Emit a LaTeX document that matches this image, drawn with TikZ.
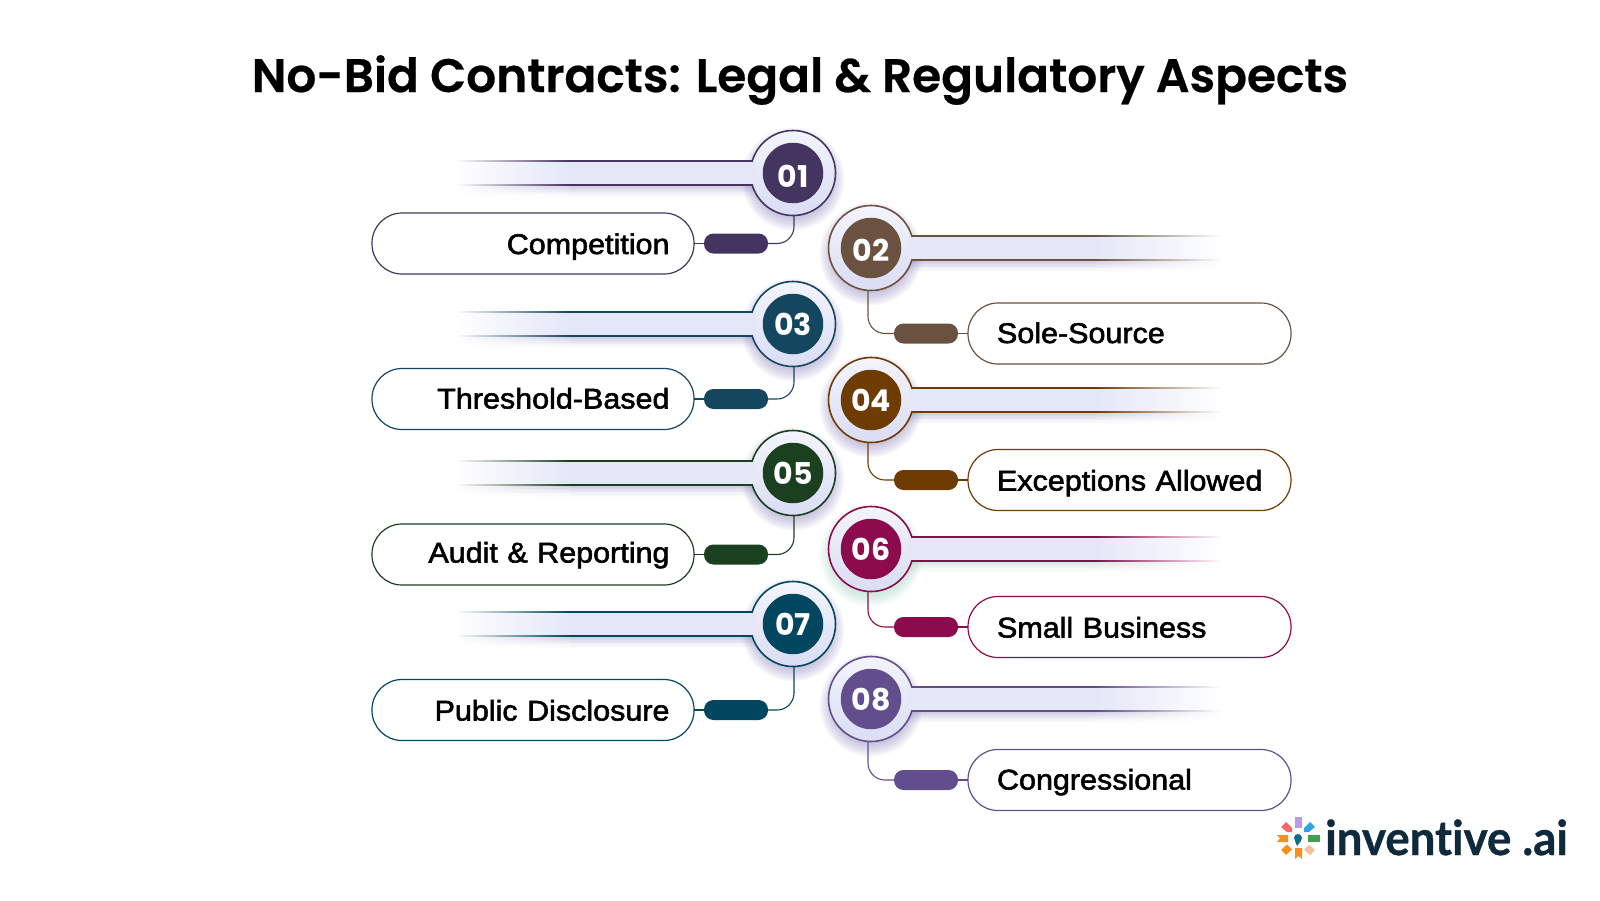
\documentclass[tikz,border=0pt]{standalone}
\usepackage{fontspec}
\setmainfont{Liberation Sans}
\newfontfamily\titlefont[FakeBold=0.5]{Poppins SemiBold}
\newfontfamily\numfont{Poppins}
\newfontfamily\labelfont[FakeBold=2,FakeStretch=1.07]{Liberation Sans}
\newfontfamily\logofont[Ligatures=NoCommon,BoldFeatures={FakeBold=0.8}]{Lato}
\definecolor{col1}{HTML}{443560}
\definecolor{col2}{HTML}{6B5240}
\definecolor{col3}{HTML}{14465F}
\definecolor{col4}{HTML}{6E3B03}
\definecolor{col5}{HTML}{1B4020}
\definecolor{col6}{HTML}{8B0B4D}
\definecolor{col7}{HTML}{03465F}
\definecolor{col8}{HTML}{624E8C}
\definecolor{barfill}{HTML}{E4E7F7}
\definecolor{ringtop}{HTML}{F3F4FC}
\definecolor{ringbot}{HTML}{DADDF4}
\definecolor{shadepurple}{HTML}{8F86BC}
\definecolor{shadegreen}{HTML}{9CCDB8}
\definecolor{logoink}{HTML}{0F2A3C}
\definecolor{petlilac}{HTML}{B79AE8}
\definecolor{petcoral}{HTML}{F2676B}
\definecolor{petblue}{HTML}{2EA3DE}
\definecolor{petgreen}{HTML}{43A04F}
\definecolor{petorange}{HTML}{F5901E}
\definecolor{petpeach}{HTML}{F3C09A}
\definecolor{petteal}{HTML}{0F6C86}
\tikzset{
  x=1pt,y=-1pt,
  ring/.style={circle,minimum size=85pt,inner sep=0pt,outer sep=0pt,line width=1.6pt,top color=ringtop,bottom color=ringbot},
  disc/.style={circle,minimum size=60.5pt,inner sep=0pt,text=white,text height=23pt,text depth=0pt,font=\numfont\bfseries\fontsize{30}{30}\selectfont},
  tag/.style={rectangle,rounded corners=9.5pt,minimum width=64pt,minimum height=20pt,inner sep=0pt,outer sep=0pt},
  pillbase/.style={rectangle,rounded corners=30pt,line width=1.2pt,minimum height=61pt,inner ysep=0pt,outer sep=0pt,
    text height=21pt,text depth=0pt,font=\labelfont\fontsize{28.5}{30}\selectfont,text=black},
  pillL/.style={pillbase,text width=273pt,inner xsep=24.5pt,align=right},
  pillR/.style={pillbase,text width=265pt,inner xsep=29pt,align=left},
  link/.style={line width=1.1pt,rounded corners=17pt},
  stub/.style={line width=1.1pt},
}
\newcommand\bandL[3]{\shade[left color=white,right color=#3] (455,#1) rectangle (570,#2);\fill[#3] (569.5,#1) rectangle (793,#2);}
\newcommand\bandR[3]{\fill[#3] (871,#1) rectangle (1095.5,#2);\shade[left color=#3,right color=white] (1095,#1) rectangle (1222,#2);}
\newcommand\itemshadow[3]{%
  \foreach \s in {1,...,9}{%
    \pgfmathsetmacro\pc{55*(1-\s/10)^1.5}%
    \pgfmathsetmacro\ya{#2+12+1.4*(\s-1)}%
    \pgfmathsetmacro\yb{#2+12+1.4*\s+.2}%
    #1{\ya}{\yb}{#3!\pc!white}%
  }%
}
\newcommand\ringshadow[3]{%
  \foreach \s in {1,...,9}{\fill[#3,opacity=.07] (#1,#2+6) circle (37+1.6*\s);}%
}
\begin{document}
\begin{tikzpicture}
\path[use as bounding box] (0,0) rectangle (1600,900);
\node[font=\titlefont\fontsize{47}{50}\selectfont,anchor=base,text=black] (title) at (800,92) {No-Bid Contracts: Legal \& Regulatory Aspects};

\itemshadow{\bandL}{173}{shadepurple}
\itemshadow{\bandR}{248}{shadepurple}
\itemshadow{\bandL}{324}{shadepurple}
\itemshadow{\bandR}{400}{shadepurple}
\itemshadow{\bandL}{473}{shadepurple}
\itemshadow{\bandR}{549}{shadegreen}
\itemshadow{\bandL}{624}{shadepurple}
\itemshadow{\bandR}{699}{shadepurple}
\ringshadow{793}{173}{shadepurple}
\ringshadow{871}{248}{shadepurple}
\ringshadow{793}{324}{shadepurple}
\ringshadow{871}{400}{shadepurple}
\ringshadow{793}{473}{shadepurple}
\ringshadow{871}{549}{shadegreen}
\ringshadow{793}{624}{shadepurple}
\ringshadow{871}{699}{shadepurple}

\foreach \i/\y/\num/\py/\txt in {1/173/\raisebox{-3pt}{01}/243.5/Competition,3/324/03/399/\raisebox{1pt}{Threshold-Based},5/473/05/554.5/\raisebox{2.5pt}{Audit \& Reporting},7/624/07/710/Public Disclosure}{
  \bandL{\y-12}{\y+12}{barfill}
  \bandL{\y-12.7}{\y-11.3}{col\i}
  \bandL{\y+11.3}{\y+12.7}{col\i}
  \node[ring,draw=col\i] (c\i) at (793,\y) {};
  \fill[barfill] (749,\y-11.2) rectangle (756,\y+11.2);
  \node[disc,fill=col\i] (n\i) at (c\i) {\num};
  \node[pillL,draw=col\i] (p\i) at (533,\py) {\mbox{\txt}};
  \node[tag,fill=col\i] (t\i) at (736,\py) {};
  \draw[link,col\i] ([xshift=1pt]c\i.south) |- (t\i.east);
  \draw[stub,col\i] (t\i.west) -- (p\i.east);
}
\foreach \i/\y/\num/\py/\txt in {2/248/\raisebox{-2pt}{02}/333.5/\raisebox{1pt}{Sole-Source},4/400/04/480/Exceptions Allowed,6/549/06/627/Small Business,8/699/08/780/\raisebox{1pt}{Congressional}}{
  \bandR{\y-12}{\y+12}{barfill}
  \bandR{\y-12.7}{\y-11.3}{col\i}
  \bandR{\y+11.3}{\y+12.7}{col\i}
  \node[ring,draw=col\i] (c\i) at (871,\y) {};
  \fill[barfill] (908,\y-11.2) rectangle (915,\y+11.2);
  \node[disc,fill=col\i] (n\i) at (c\i) {\num};
  \node[pillR,draw=col\i] (p\i) at (1129.5,\py) {\mbox{\txt}};
  \node[tag,fill=col\i] (t\i) at (926,\py) {};
  \draw[link,col\i] ([xshift=-3pt]c\i.south) |- (t\i.west);
  \draw[stub,col\i] (t\i.east) -- (p\i.west);
}

% logo mark
\fill[petlilac] (1294.5,817) rectangle (1302,828);
\fill[petgreen] (1308,835) rectangle (1320,842);
\fill[petorange] (1277,835) -- (1288,835) -- (1288,842) -- (1277,842) -- (1280,838.5) -- cycle;
\fill[petorange] (1295,848) -- (1302,848) -- (1302,859) -- (1298.5,856) -- (1295,859) -- cycle;
\fill[petcoral] (1281,827) -- (1286,822) -- (1292,828) -- (1292,832) -- (1287,832) -- cycle;
\fill[petblue] (1304,828) -- (1310,822) -- (1315,827) -- (1309,832) -- (1304,832) -- cycle;
\fill[petorange] (1281,850) -- (1287,844.5) -- (1292,849.5) -- (1286,855) -- cycle;
\fill[petpeach] (1304,849.5) -- (1309,844.5) -- (1315,850) -- (1310,855) -- cycle;
\fill[petteal] (1298,838) circle (4);
\fill[petteal] (1295,841) -- (1301,841) -- (1297,846) -- cycle;
\node[font=\logofont\bfseries\fontsize{48}{50}\selectfont,text=logoink,anchor=base west,inner sep=0pt,xscale=.95,transform shape] (logo) at (1325,855) {inventive .ai};
\end{tikzpicture}
\end{document}
